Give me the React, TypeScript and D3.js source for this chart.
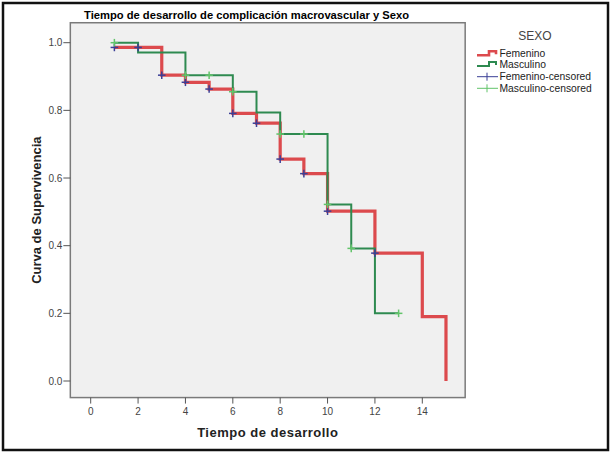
import React from "react";
import * as d3 from "d3";

const title = "Tiempo de desarrollo de complicación macrovascular y Sexo";
const xTicks = [0, 2, 4, 6, 8, 10, 12, 14];
const yTicks = [0, 0.2, 0.4, 0.6, 0.8, 1.0];

const femTimes = [1, 3, 4, 5, 6, 7, 8, 9, 10, 12, 14, 15];
const femSurv = [0.986, 0.904, 0.883, 0.863, 0.791, 0.762, 0.656, 0.613, 0.502, 0.378, 0.19, 0.0];
const femEnd = 15;
const femCensored = [1, 2, 3, 4, 5, 6, 7, 8, 9, 10, 12];

const mascTimes = [1, 2, 4, 6, 7, 8, 10, 11, 12];
const mascSurv = [1.0, 0.971, 0.904, 0.855, 0.794, 0.73, 0.522, 0.392, 0.2];
const mascEnd = 13;
const mascCensored = [1, 4, 5, 6, 8, 9, 10, 11, 13];

const legendLabels = ["Femenino", "Masculino", "Femenino-censored", "Masculino-censored"];

const RED = "#dc4a4d";
const GREEN = "#2e8a50";
const BLUE = "#3b3f96";
const LGREEN = "#62c46a";

const x = d3.scaleLinear().domain([0, 14]).range([90.7, 422.3]);
const y = d3.scaleLinear().domain([0, 1]).range([381, 42.7]);

function stepPath(times: number[], surv: number[], end: number) {
  let p = `M${x(times[0])},${y(surv[0])}`;
  for (let i = 1; i < times.length; i++) {
    p += `H${x(times[i])}V${y(surv[i])}`;
  }
  if (end > times[times.length - 1]) p += `H${x(end)}`;
  return p;
}

function survAt(times: number[], surv: number[], t: number) {
  let v = surv[0];
  for (let i = 0; i < times.length; i++) if (times[i] <= t) v = surv[i];
  return v;
}

const Plus = ({ cx, cy, color, s = 3.8, w = 1.5 }: any) => (
  <g stroke={color} strokeWidth={w}>
    <line x1={cx - s} x2={cx + s} y1={cy} y2={cy} />
    <line x1={cx} x2={cx} y1={cy - s} y2={cy + s} />
  </g>
);

export default function App() {
  const pl = x(-0.86), pr = x(15.81), pt = y(1.059), pb = y(-0.049);
  const font = "'Liberation Sans', Arial, sans-serif";
  const lx = 477;
  const legY = [53.3, 64, 76.7, 88.3];
  return (
    <svg width={611} height={453} style={{ position: "absolute", left: 0, top: 0 }} fontFamily={font}>
      <rect x={0} y={0} width={611} height={453} fill="#fff" />
      <rect x={3} y={3} width={605} height={447} fill="none" stroke="#111" strokeWidth={2.5} />
      <text x={246.5} y={18.5} textAnchor="middle" fontWeight="bold" fontSize={11.2} fill="#000">{title}</text>
      <rect x={pl} y={pt} width={pr - pl} height={pb - pt} fill="#f0f0f0" stroke="#7a7a7a" strokeWidth={1.5} />
      {yTicks.map((t) => (
        <g key={"y" + t}>
          <line x1={pl - 7} x2={pl} y1={y(t)} y2={y(t)} stroke="#555" strokeWidth={1} />
          <text x={pl - 8} y={y(t) + 3.5} textAnchor="end" fontSize={10} fill="#444">{d3.format(".1f")(t)}</text>
        </g>
      ))}
      {xTicks.map((t) => (
        <g key={"x" + t}>
          <line x1={x(t)} x2={x(t)} y1={pb} y2={pb + 6} stroke="#555" strokeWidth={1} />
          <text x={x(t)} y={pb + 17} textAnchor="middle" fontSize={10} fill="#444">{t}</text>
        </g>
      ))}
      <text transform={`translate(41,${(pt + pb) / 2}) rotate(-90)`} textAnchor="middle" fontWeight="bold" fontSize={13} fill="#222">Curva de Supervivencia</text>
      <text x={(pl + pr) / 2} y={437} textAnchor="middle" fontWeight="bold" fontSize={13} fill="#222" letterSpacing={0.5}>Tiempo de desarrollo</text>

      <path d={stepPath(femTimes, femSurv, femEnd)} fill="none" stroke={RED} strokeWidth={3.2} />
      <path d={stepPath(mascTimes, mascSurv, mascEnd)} fill="none" stroke={GREEN} strokeWidth={2} />
      {femCensored.map((t) => (
        <Plus key={"fc" + t} cx={x(t)} cy={y(survAt(femTimes, femSurv, t))} color={BLUE} />
      ))}
      {mascCensored.map((t) => (
        <Plus key={"mc" + t} cx={x(t)} cy={y(survAt(mascTimes, mascSurv, t))} color={LGREEN} />
      ))}

      <text x={535} y={40} textAnchor="middle" fontSize={12} fill="#444">SEXO</text>
      <path d={`M${lx},${legY[0] + 2}H${lx + 12}V${legY[0] - 2}H${lx + 19}V${legY[0] + 1}`} fill="none" stroke={RED} strokeWidth={2.6} />
      <path d={`M${lx},${legY[1] + 2}H${lx + 12}V${legY[1] - 2}H${lx + 19}V${legY[1] + 1}`} fill="none" stroke={GREEN} strokeWidth={2} />
      <line x1={lx} x2={lx + 21} y1={legY[2]} y2={legY[2]} stroke={BLUE} strokeWidth={1} />
      <line x1={lx + 10} x2={lx + 10} y1={legY[2] - 4} y2={legY[2] + 4} stroke={BLUE} strokeWidth={1} />
      <line x1={lx} x2={lx + 21} y1={legY[3]} y2={legY[3]} stroke={LGREEN} strokeWidth={1} />
      <line x1={lx + 10} x2={lx + 10} y1={legY[3] - 4} y2={legY[3] + 4} stroke={LGREEN} strokeWidth={1} />
      {legendLabels.map((l, i) => (
        <text key={l} x={499.5} y={legY[i] + 3.7} fontSize={10.3} fill="#222">{l}</text>
      ))}
    </svg>
  );
}
